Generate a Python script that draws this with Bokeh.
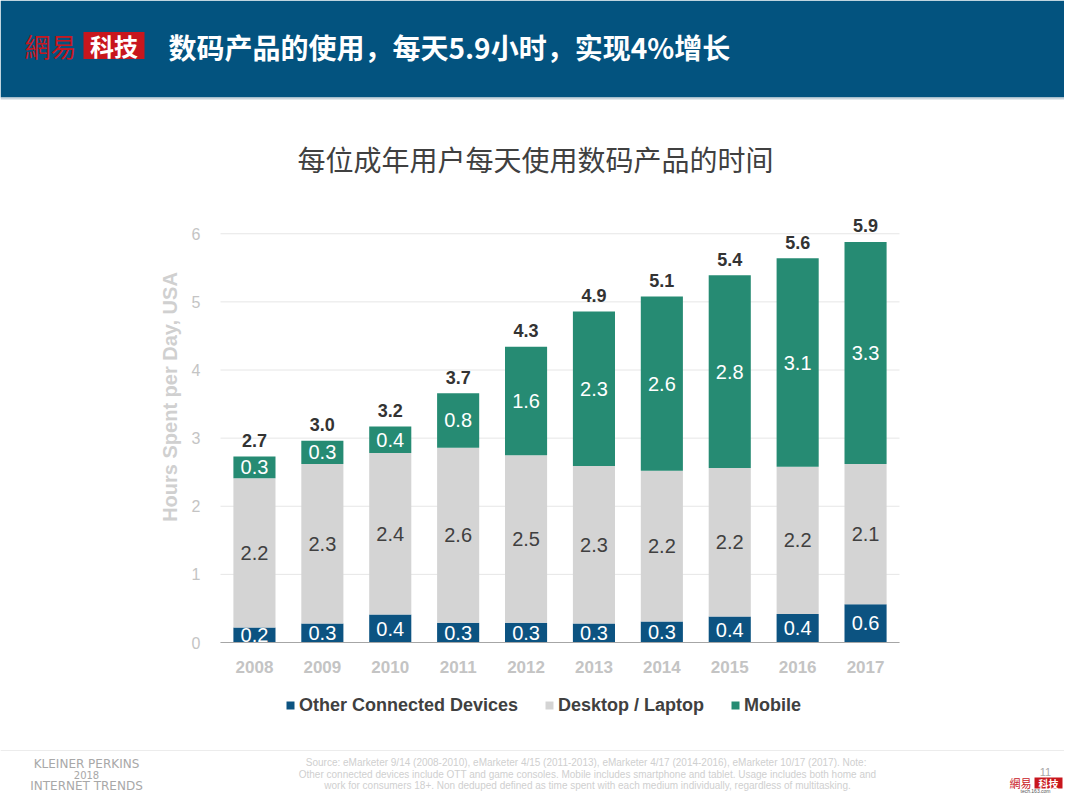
import numpy as np
from bokeh.plotting import figure
from bokeh.models import (ColumnDataSource, Range1d, FixedTicker, Label, LinearAxis, Grid,
                          BoxAnnotation, Legend, LegendItem)
from bokeh.embed import file_html
from bokeh.resources import INLINE
from bokeh.core.properties import value

# ---------------- data ----------------
years = ["2008", "2009", "2010", "2011", "2012", "2013", "2014", "2015", "2016", "2017"]
other = [0.22, 0.28, 0.41, 0.29, 0.29, 0.28, 0.31, 0.38, 0.42, 0.56]
desktop = [2.19, 2.34, 2.37, 2.57, 2.46, 2.31, 2.21, 2.18, 2.16, 2.06]
mobile = [0.32, 0.34, 0.39, 0.80, 1.59, 2.27, 2.56, 2.83, 3.06, 3.26]
series_names = ["Other Connected Devices", "Desktop / Laptop", "Mobile"]
y_ticks = [0, 1, 2, 3, 4, 5, 6]

header_title = "数码产品的使用，每天5.9小时，实现4%增长"
chart_title = "每位成年用户每天使用数码产品的时间"
y_label = "Hours Spent per Day, USA"
source_lines = [
    "Source: eMarketer 9/14 (2008-2010), eMarketer 4/15 (2011-2013), eMarketer 4/17 (2014-2016), eMarketer 10/17 (2017).  Note:",
    "Other connected devices include OTT and game consoles. Mobile includes smartphone and tablet. Usage includes both home and",
    "work for consumers 18+. Non deduped defined as time spent with each medium individually, regardless of multitasking.",
]

# ---------------- styles ----------------
C_OTHER = "#0c5381"
C_DESK = "#d4d4d4"
C_MOB = "#268b73"
C_HEAD = "#03537f"
C_RED = "#c8161d"
LATIN = "Liberation Sans"
CJK = "Noto Sans CJK SC"
CJK_TC = "Noto Sans CJK TC"

W, H = 1064, 793
# pixel geometry of the plotting area (page pixels)
PX_FIRST = 253.95      # centre of first category
PX_STEP = 67.9         # category spacing
PX_ZERO = 642.0        # y = 0
PX_UNIT = 68.125       # pixels per hour

x_lo = -PX_FIRST / PX_STEP
x_hi = (W - PX_FIRST) / PX_STEP
y_lo = -(H - PX_ZERO) / PX_UNIT
y_hi = PX_ZERO / PX_UNIT

p = figure(width=W, height=H, output_backend="svg", toolbar_location=None,
           x_range=Range1d(x_lo, x_hi), y_range=Range1d(y_lo, y_hi),
           x_axis_location=None, y_axis_location=None, min_border=0)
p.min_border_left = p.min_border_right = p.min_border_top = p.min_border_bottom = 0
p.outline_line_color = None
p.background_fill_color = "white"
p.border_fill_color = "white"
# drop any default grids
p.renderers = [r for r in p.renderers if not isinstance(r, Grid)]
p.center = [r for r in p.center if not isinstance(r, Grid)]


def sx(X):
    return X


def sy(Y):
    return H - Y


def box(l, r, t, b, color):
    p.add_layout(BoxAnnotation(left=sx(l), right=sx(r), top=sy(t), bottom=sy(b),
                               left_units="screen", right_units="screen", top_units="screen",
                               bottom_units="screen", fill_color=color, fill_alpha=1,
                               line_color=None))


def lab(X, Y, text, size, color, font=LATIN, style="normal", align="left"):
    p.add_layout(Label(x=sx(X), y=sy(Y), x_units="screen", y_units="screen", text=text,
                       text_font=font, text_font_size=f"{size}px", text_font_style=style,
                       text_color=color, text_align=align, text_baseline="middle"))


# ---------------- grid, axes ----------------
xi = list(range(len(years)))
band_lo, band_hi = xi[0] - 0.5, xi[-1] + 0.5

p.segment(x0=band_lo, x1=band_hi, y0=y_ticks, y1=y_ticks, line_color="#e6e6e6", line_width=1)

xaxis = LinearAxis(ticker=FixedTicker(ticks=xi),
                   major_label_overrides={i: yr for i, yr in zip(xi, years)},
                   fixed_location=0, bounds=(band_lo, band_hi))
xaxis.axis_line_color = "#a6a6a6"
xaxis.major_tick_line_color = None
xaxis.minor_tick_line_color = None
xaxis.major_label_text_color = "#c4c4c4"
xaxis.major_label_text_font = LATIN
xaxis.major_label_text_font_size = "17px"
xaxis.major_label_text_font_style = "bold"
xaxis.major_label_standoff = 12

yaxis = LinearAxis(ticker=FixedTicker(ticks=y_ticks), fixed_location=band_lo,
                   axis_label=y_label)
yaxis.axis_line_color = None
yaxis.major_tick_line_color = None
yaxis.minor_tick_line_color = None
yaxis.major_label_text_color = "#c4c4c4"
yaxis.major_label_text_font = LATIN
yaxis.major_label_text_font_size = "16px"
yaxis.major_label_standoff = 14
yaxis.axis_label_text_font = LATIN
yaxis.axis_label_text_font_size = "20px"
yaxis.axis_label_text_font_style = "bold"
yaxis.axis_label_text_color = "#d0d0d0"
yaxis.axis_label_standoff = 8

# ---------------- bars ----------------
src = ColumnDataSource(dict(x=xi, other=other, desktop=desktop, mobile=mobile))
colors = [C_OTHER, C_DESK, C_MOB]
rs = p.vbar_stack(["other", "desktop", "mobile"], x="x", width=0.62, source=src,
                  fill_color=colors, line_color=None)

o = np.array(other)
d = np.array(desktop)
m = np.array(mobile)
tot = o + d + m
seg_x, seg_y, seg_t, seg_c = [], [], [], []
for i in xi:
    for lo, v, col in ((0, o[i], "white"), (o[i], d[i], "#404040"), (o[i] + d[i], m[i], "white")):
        seg_x.append(i)
        seg_y.append(lo + v / 2)
        seg_t.append(f"{v:.1f}")
        seg_c.append(col)
p.text(x="x", y="y", text="t", text_color="c",
       source=ColumnDataSource(dict(x=seg_x, y=seg_y, t=seg_t, c=seg_c)),
       text_align="center", text_baseline="middle", text_font=value(LATIN),
       text_font_size="20px")
p.text(x="x", y="y", text="t",
       source=ColumnDataSource(dict(x=xi, y=list(tot), t=[f"{v:.1f}" for v in tot])),
       text_align="center", text_baseline="middle", text_font=value(LATIN),
       text_font_size="18px", text_font_style="bold", text_color="#333333", y_offset=-16)

p.add_layout(xaxis, "below")
p.add_layout(yaxis, "left")

# ---------------- legend ----------------
legend = Legend(items=[LegendItem(label=n, renderers=[r]) for n, r in zip(series_names, rs)],
                orientation="horizontal", location=(sx(285), sy(715.5)),
                glyph_width=10, glyph_height=10, label_standoff=4, spacing=26,
                padding=0, margin=0, border_line_color=None, background_fill_alpha=0,
                label_text_font=LATIN, label_text_font_size="18px",
                label_text_font_style="bold", label_text_color="#404040")
p.add_layout(legend, "center")

# ---------------- header ----------------
box(0, W, 0, 97, C_HEAD)
box(0, W, 97, 99, "#c9d4dc")
lab(24, 45, "網易", 26, C_RED, font=CJK_TC)
box(83, 144, 31.5, 58.5, C_RED)
lab(113.5, 45, "科技", 24, "white", font=CJK_TC, style="bold", align="center")
lab(168, 46, header_title, 28, "white", font=CJK, style="bold")

# ---------------- chart title ----------------
lab(535, 158, chart_title, 28, "#404040", font=CJK, align="center")

# ---------------- footer ----------------
box(0, W, 749.5, 750.5, "#ececec")
lab(86, 763, "KLEINER PERKINS", 12, "#a8a8a8", font="DejaVu Sans", align="center")
lab(86, 774.5, "2018", 10, "#a8a8a8", font="DejaVu Sans", align="center")
lab(86, 785, "INTERNET TRENDS", 12, "#a8a8a8", font="DejaVu Sans", align="center")
for i, line in enumerate(source_lines):
    lab(587, 762 + 11.5 * i, line, 10, "#cfcfcf", align="center")
lab(1045, 771, "11", 11, "#a8a8a8", align="center")
lab(1009, 782.5, "網易", 11, C_RED, font=CJK_TC)
box(1034, 1062, 777, 788, C_RED)
lab(1048, 782.5, "科技", 10, "white", font=CJK_TC, style="bold", align="center")
lab(1035, 790, "tech.163.com", 5, "#555555", align="center")

open("out.html", "w").write(file_html(p, INLINE))
